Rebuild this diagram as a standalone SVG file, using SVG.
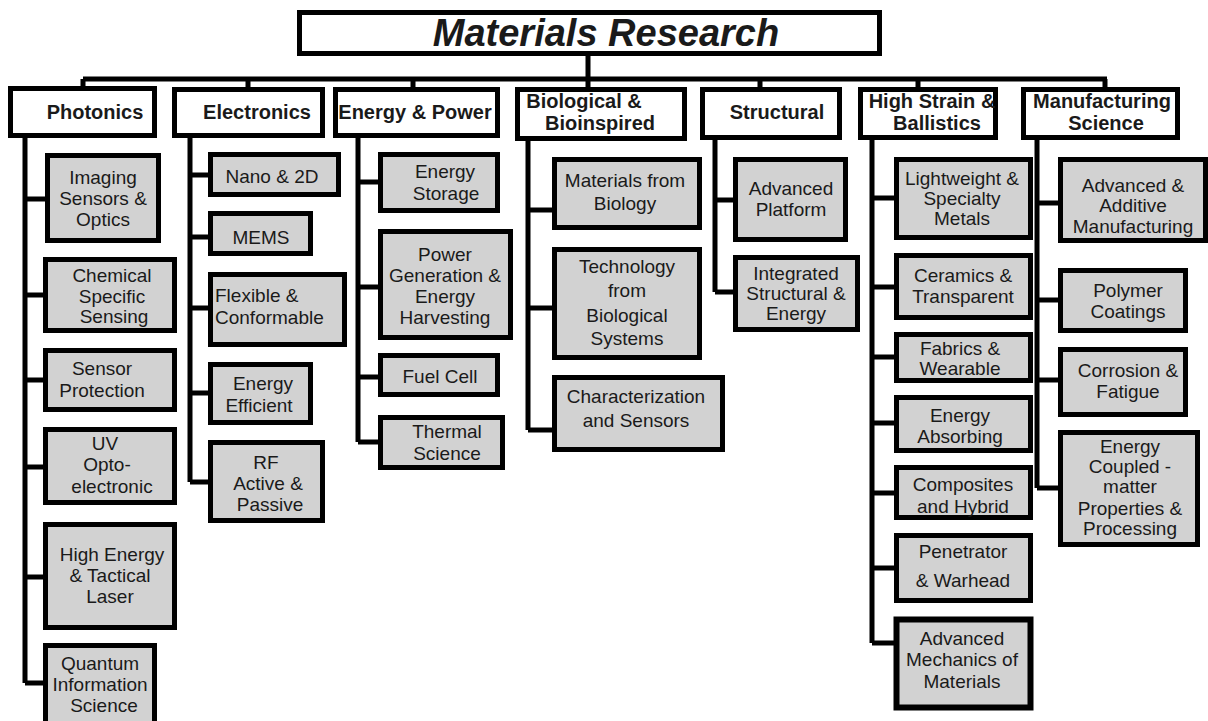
<svg xmlns="http://www.w3.org/2000/svg" width="1208" height="721" viewBox="0 0 1208 721">
<style>
.cat{fill:#fff;stroke:#000;stroke-width:5}
.sub{fill:#d2d2d2;stroke:#000;stroke-width:5}
.ln{fill:none;stroke:#000;stroke-width:5;stroke-linejoin:miter}
text{font-family:"Liberation Sans",Arial,sans-serif;text-anchor:middle;fill:#1a1a1a}
.ct{font-size:20px;font-weight:bold}
.st{font-size:19px}
.tt{font-size:38px;font-weight:bold;font-style:italic}
</style>
<rect width="1208" height="721" fill="#fff"/>
<g id="connectors">
<path class="ln" d="M588,56V87 M83,79H1107 M83,79V88 M248,79V88 M413,79V88 M760,79V88 M918,79V88 M1105,79V88"/>
<path class="ln" d="M25,138V683 M25,199H45 M25,295H45 M25,380H45 M25,467H45 M25,577H45 M25,683H45"/>
<path class="ln" d="M190,138V482 M190,175H208 M190,237H208 M190,308H208 M190,393H208 M190,482H208"/>
<path class="ln" d="M358,138V442 M358,182H378 M358,287H378 M358,377H378 M358,442H378"/>
<path class="ln" d="M528,141V430 M528,210H552 M528,308H552 M528,430H552"/>
<path class="ln" d="M715,140V292 M715,200H733 M715,292H733"/>
<path class="ln" d="M872,140V643 M872,198H894 M872,287H894 M872,357H894 M872,423H894 M872,493H894 M872,568H894 M872,643H894"/>
<path class="ln" d="M1037,140V488 M1037,203H1058 M1037,300H1058 M1037,380H1058 M1037,488H1058"/>
</g>
<g id="title"><rect class="cat" x="299.500" y="12.500" width="580" height="41"/><text class="tt" x="606" y="46">Materials Research</text></g>
<g id="photonics"><rect class="cat" x="10.500" y="88.500" width="144" height="47"/><text class="ct" x="95" y="119">Photonics</text></g>
<g id="electronics"><rect class="cat" x="174.500" y="89.500" width="148" height="46"/><text class="ct" x="257" y="119">Electronics</text></g>
<g id="energy-power"><rect class="cat" x="335.500" y="89.500" width="162" height="46"/><text class="ct" x="415" y="119">Energy &amp; Power</text></g>
<g id="biological"><rect class="cat" x="517.500" y="89.500" width="167" height="49"/><text class="ct" x="584" y="108">Biological &amp;</text><text class="ct" x="600" y="130">Bioinspired</text></g>
<g id="structural"><rect class="cat" x="702.500" y="89.500" width="137" height="48"/><text class="ct" x="777" y="119">Structural</text></g>
<g id="high-strain"><rect class="cat" x="860.500" y="89.500" width="135" height="48"/><text class="ct" x="932" y="108">High Strain &amp;</text><text class="ct" x="937" y="130">Ballistics</text></g>
<g id="manufacturing"><rect class="cat" x="1023.500" y="89.500" width="154" height="48"/><text class="ct" x="1102" y="108">Manufacturing</text><text class="ct" x="1106" y="130">Science</text></g>

<g id="imaging"><rect class="sub" x="47.500" y="155.500" width="111" height="85"/><text class="st"><tspan x="103" y="184">Imaging</tspan><tspan x="103" y="205">Sensors &amp;</tspan><tspan x="103" y="226">Optics</tspan></text></g>
<g id="chemical"><rect class="sub" x="45.500" y="259.500" width="129" height="71"/><text class="st"><tspan x="112" y="282">Chemical</tspan><tspan x="112" y="303">Specific</tspan><tspan x="114" y="323">Sensing</tspan></text></g>
<g id="sensor-protection"><rect class="sub" x="45.500" y="350.500" width="129" height="59"/><text class="st"><tspan x="102" y="375">Sensor</tspan><tspan x="102" y="397">Protection</tspan></text></g>
<g id="uv"><rect class="sub" x="45.500" y="429.500" width="129" height="73"/><text class="st"><tspan x="105" y="450">UV</tspan><tspan x="107" y="471">Opto-</tspan><tspan x="112" y="493">electronic</tspan></text></g>
<g id="high-energy"><rect class="sub" x="45.500" y="524.500" width="129" height="103"/><text class="st"><tspan x="112" y="561">High Energy</tspan><tspan x="110" y="582">&amp; Tactical</tspan><tspan x="110" y="603">Laser</tspan></text></g>
<g id="quantum"><rect class="sub" x="45.500" y="645.500" width="109" height="80"/><text class="st"><tspan x="100" y="670">Quantum</tspan><tspan x="100" y="691">Information</tspan><tspan x="104" y="712">Science</tspan></text></g>

<g id="nano"><rect class="sub" x="210.500" y="154.500" width="128" height="40"/><text class="st" x="272" y="183">Nano &amp; 2D</text></g>
<g id="mems"><rect class="sub" x="210.500" y="213.500" width="100" height="40"/><text class="st" x="261" y="244">MEMS</text></g>
<g id="flexible"><rect class="sub" x="210.500" y="274.500" width="134" height="70"/><text class="st" style="text-anchor:start"><tspan x="215" y="302">Flexible &amp;</tspan><tspan x="215" y="324">Conformable</tspan></text></g>
<g id="energy-efficient"><rect class="sub" x="210.500" y="364.500" width="100" height="58"/><text class="st"><tspan x="263" y="390">Energy</tspan><tspan x="259" y="412">Efficient</tspan></text></g>
<g id="rf"><rect class="sub" x="210.500" y="442.500" width="112" height="78"/><text class="st"><tspan x="266" y="469">RF</tspan><tspan x="268" y="490">Active &amp;</tspan><tspan x="270" y="511">Passive</tspan></text></g>

<g id="energy-storage"><rect class="sub" x="380.500" y="154.500" width="117" height="56"/><text class="st"><tspan x="445" y="178">Energy</tspan><tspan x="446" y="200">Storage</tspan></text></g>
<g id="power-generation"><rect class="sub" x="380.500" y="231.500" width="130" height="106"/><text class="st"><tspan x="445" y="261">Power</tspan><tspan x="445" y="282">Generation &amp;</tspan><tspan x="445" y="303">Energy</tspan><tspan x="445" y="324">Harvesting</tspan></text></g>
<g id="fuel-cell"><rect class="sub" x="380.500" y="355.500" width="117" height="39"/><text class="st" x="440" y="383">Fuel Cell</text></g>
<g id="thermal"><rect class="sub" x="380.500" y="417.500" width="122" height="50"/><text class="st"><tspan x="447" y="438">Thermal</tspan><tspan x="447" y="460">Science</tspan></text></g>

<g id="materials-biology"><rect class="sub" x="554.500" y="159.500" width="145" height="68"/><text class="st"><tspan x="625" y="187">Materials from</tspan><tspan x="625" y="210">Biology</tspan></text></g>
<g id="technology-bio"><rect class="sub" x="554.500" y="249.500" width="145" height="108"/><text class="st"><tspan x="627" y="273">Technology</tspan><tspan x="627" y="297">from</tspan><tspan x="627" y="322">Biological</tspan><tspan x="627" y="345">Systems</tspan></text></g>
<g id="characterization"><rect class="sub" x="554.500" y="377.500" width="168" height="72"/><text class="st"><tspan x="636" y="403">Characterization</tspan><tspan x="636" y="427">and Sensors</tspan></text></g>

<g id="advanced-platform"><rect class="sub" x="735.500" y="159.500" width="110" height="80"/><text class="st"><tspan x="791" y="195">Advanced</tspan><tspan x="791" y="216">Platform</tspan></text></g>
<g id="integrated"><rect class="sub" x="735.500" y="257.500" width="122" height="72"/><text class="st"><tspan x="796" y="280">Integrated</tspan><tspan x="796" y="300">Structural &amp;</tspan><tspan x="796" y="320">Energy</tspan></text></g>

<g id="lightweight"><rect class="sub" x="896.500" y="159.500" width="134" height="78"/><text class="st"><tspan x="962" y="185">Lightweight &amp;</tspan><tspan x="962" y="205">Specialty</tspan><tspan x="962" y="225">Metals</tspan></text></g>
<g id="ceramics"><rect class="sub" x="896.500" y="255.500" width="134" height="62"/><text class="st"><tspan x="963" y="282">Ceramics &amp;</tspan><tspan x="963" y="303">Transparent</tspan></text></g>
<g id="fabrics"><rect class="sub" x="896.500" y="334.500" width="134" height="46"/><text class="st"><tspan x="960" y="355">Fabrics &amp;</tspan><tspan x="960" y="375">Wearable</tspan></text></g>
<g id="energy-absorbing"><rect class="sub" x="896.500" y="397.500" width="134" height="53"/><text class="st"><tspan x="960" y="422">Energy</tspan><tspan x="960" y="443">Absorbing</tspan></text></g>
<g id="composites"><rect class="sub" x="896.500" y="467.500" width="134" height="50"/><text class="st"><tspan x="963" y="491">Composites</tspan><tspan x="963" y="513">and Hybrid</tspan></text></g>
<g id="penetrator"><rect class="sub" x="896.500" y="535.500" width="134" height="65"/><text class="st"><tspan x="963" y="558">Penetrator</tspan><tspan x="963" y="587">&amp; Warhead</tspan></text></g>
<g id="advanced-mechanics"><rect class="sub" x="896.500" y="619.500" width="134" height="88" style="stroke-width:6"/><text class="st"><tspan x="962" y="645">Advanced</tspan><tspan x="962" y="666">Mechanics of</tspan><tspan x="962" y="688">Materials</tspan></text></g>

<g id="additive"><rect class="sub" x="1060.500" y="159.500" width="145" height="81"/><text class="st"><tspan x="1133" y="192">Advanced &amp;</tspan><tspan x="1133" y="212">Additive</tspan><tspan x="1133" y="233">Manufacturing</tspan></text></g>
<g id="polymer"><rect class="sub" x="1060.500" y="270.500" width="125" height="60"/><text class="st"><tspan x="1128" y="297">Polymer</tspan><tspan x="1128" y="318">Coatings</tspan></text></g>
<g id="corrosion"><rect class="sub" x="1060.500" y="349.500" width="125" height="65"/><text class="st"><tspan x="1128" y="377">Corrosion &amp;</tspan><tspan x="1128" y="398">Fatigue</tspan></text></g>
<g id="energy-coupled"><rect class="sub" x="1060.500" y="432.500" width="137" height="112"/><text class="st"><tspan x="1130" y="453">Energy</tspan><tspan x="1130" y="473">Coupled -</tspan><tspan x="1130" y="493">matter</tspan><tspan x="1130" y="515">Properties &amp;</tspan><tspan x="1130" y="535">Processing</tspan></text></g>
</svg>
